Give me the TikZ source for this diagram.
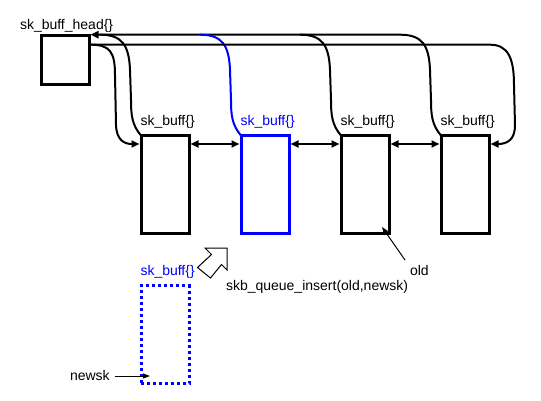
\documentclass[tikz,border=0pt]{standalone}
\usepackage{fontspec}
\setmainfont{Liberation Sans}
\usetikzlibrary{arrows.meta,calc}
\begin{document}
\begin{tikzpicture}[x=1pt,y=-1pt,
  box/.style={draw,line width=3pt,minimum width=48pt,minimum height=98pt,inner sep=0pt,outer sep=0pt},
  headbox/.style={draw,line width=3pt,minimum width=48pt,minimum height=49pt,inner sep=0pt,outer sep=0pt},
  lbl/.style={inner sep=0pt,outer sep=0pt,anchor=base west,font=\fontsize{14}{16}\selectfont},
  conn/.style={line width=2pt},
  tip/.style={-{Triangle[length=8pt,width=7pt]}},
  dtip/.style={{Triangle[length=8pt,width=7pt]}-{Triangle[length=8pt,width=7pt]}},
  thinarrow/.style={line width=1pt,-{Triangle[length=7pt,width=5pt]}}]
\useasboundingbox (0,0) rectangle (541,401);
% boxes
\node[headbox] (h) at (65,60.2) {};
\node[box] (b1) at (165,184.5) {};
\node[box,draw=blue] (b2) at (265,184.5) {};
\node[box] (b3) at (365,184.5) {};
\node[box] (b4) at (465,184.5) {};
\node[box,draw=blue,dash pattern=on 3pt off 3pt] (nb) at (165,334.5) {};
% labels
\node[lbl] (lh) at (20,30) {sk\_buff\_head\{\}};
\node[lbl] (l1) at (140.5,126) {sk\_buff\{\}};
\node[lbl,text=blue] (l2) at (240.5,126) {sk\_buff\{\}};
\node[lbl] (l3) at (340.5,126) {sk\_buff\{\}};
\node[lbl] (l4) at (440.5,126) {sk\_buff\{\}};
\node[lbl,text=blue] (ln) at (140.5,275) {sk\_buff\{\}};
\node[lbl] (old) at (410,275) {old};
\node[lbl] (ins) at (226,290) {skb\_queue\_insert(old,newsk)};
\node[lbl] (nw) at (70,380) {newsk};
% list pointers back to head (bus)
\draw[conn,tip] (b4.north west) .. controls (432,125) and (431,115) .. (431,100) -- (430,70)
  .. controls (429,45) and (422,34.7) .. (400,34.7) -- ($(h.north east)+(1.5,-1)$);
\draw[conn] (b3.north west) .. controls (332,125) and (331,115) .. (331,100) -- (330,70)
  .. controls (329,45) and (322,34.7) .. (300,34.7);
\draw[conn] (b1.north west) .. controls (132,125) and (131,115) .. (131,100) -- (130,70)
  .. controls (129,45) and (122,34.7) .. (100,34.7);
\draw[conn,blue] (b2.north west) .. controls (232,125) and (231,115) .. (231,100) -- (230,70)
  .. controls (229,45) and (222,34.7) .. (200,34.7);
% head next / prev
\draw[conn,tip] ($(h.north east)+(1.5,9)$) .. controls (110,44.7) and (115,52) .. (115,75) -- (116,125)
  .. controls (116.5,140) and (124,144) .. ($(b1.north west)+(-1.5,8.5)$);
\draw[conn,tip] ($(h.north east)+(1.5,9)$) -- (490,44.7) .. controls (508,44.7) and (514,58) .. (514,85)
  -- (515,125) .. controls (515,140) and (507,144) .. ($(b4.north east)+(1.5,8.5)$);
% next/prev between buffers
\draw[conn,dtip] ($(b1.north east)+(1.5,8.5)$) -- ($(b2.north west)+(-1.5,8.5)$);
\draw[conn,dtip] ($(b2.north east)+(1.5,8.5)$) -- ($(b3.north west)+(-1.5,8.5)$);
\draw[conn,dtip] ($(b3.north east)+(1.5,8.5)$) -- ($(b4.north west)+(-1.5,8.5)$);
% pointers
\draw[thinarrow] ($(old.base west)+(-5,-15)$) -- ($(b3.south east)+(-7,-6.5)$);
\draw[thinarrow] ($(nw.base east)+(5,-4)$) -- ($(nb.south west)+(9,-7.5)$);
% hollow arrow
\draw[line width=1pt,line join=miter] (205,248) -- (227,248) -- (227,270) -- (221.5,264.5)
  -- (210.5,278) -- (197.5,267.5) -- (211.5,254.5) -- cycle;
\end{tikzpicture}
\end{document}
